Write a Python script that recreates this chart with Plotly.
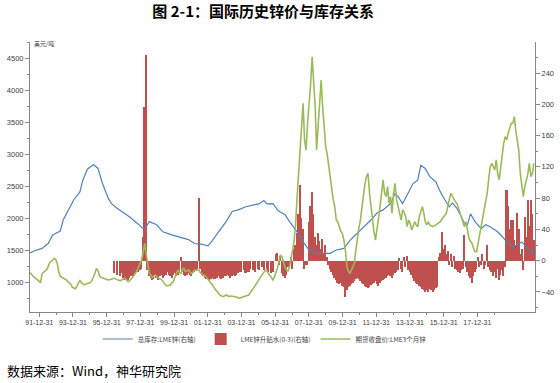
import pandas as pd
import plotly.graph_objects as go

# ---------------- data ----------------
tick_labels = ["91-12-31", "93-12-31", "95-12-31", "97-12-31", "99-12-31", "01-12-31",
               "03-12-31", "05-12-31", "07-12-31", "09-12-31", "11-12-31", "13-12-31",
               "15-12-31", "17-12-31"]

# LME 3-month zinc close (USD/t), monthly from 1991-05
green_start = "1991-05-01"
green_values = [
    1160, 1119, 1100, 1083, 1060, 1041, 1030, 1000,
    1145, 1160, 1180, 1200, 1249, 1311, 1330, 1350, 1379, 1360, 1300, 1170,
    1100, 1085, 1075, 1067, 1045, 1020, 1000, 975, 927, 915, 905, 940,
    1000, 1041, 1000, 975, 963, 980, 989, 1000, 1000, 1030, 1080, 1145,
    1223, 1187, 1110, 1083, 1075, 1070, 1062, 1050, 1041, 1045, 1052, 1060,
    1067, 1055, 1041, 1035, 1031, 1050, 1060, 1067, 1040, 1015, 1030, 1050,
    1083, 1120, 1150, 1190, 1249, 1300, 1353, 1480, 1613, 1450, 1250, 1150,
    1120, 1083, 1100, 1119, 1090, 1067, 1060, 1052, 1020, 989, 960, 948,
    960, 963, 1000, 1015, 1083, 1130, 1197, 1160, 1145, 1200, 1223, 1171,
    1190, 1197, 1170, 1145, 1160, 1197, 1190, 1197, 1197, 1150, 1130, 1119,
    1110, 1080, 1050, 1030, 990, 960, 920, 885, 850, 815, 800, 790,
    781, 795, 807, 795, 781, 790, 791, 785, 781, 770, 760, 755,
    770, 781, 785, 791, 800, 807, 840, 885, 910, 937, 975, 1015,
    1060, 1100, 1119, 1160, 1197, 1180, 1145, 1110, 1067, 1041, 1090, 1145,
    1230, 1327, 1431, 1405, 1300, 1240, 1197, 1180, 1250, 1353, 1500, 1650,
    1900, 2342, 2700, 3050, 3500, 3797, 3226, 3069, 3500, 3745, 4100, 4525,
    4162, 3745, 3069, 3434, 3850, 4162, 3745, 3434, 3121, 3000, 2800, 2602,
    2497, 2290, 2185, 1978, 1950, 1873, 1800, 1769, 1665, 1509, 1249, 1180,
    1145, 1197, 1250, 1301, 1509, 1717, 1850, 1978, 2185, 2342, 2550, 2650,
    2706, 2394, 2185, 1978, 1800, 1665, 1873, 2000, 2185, 2394, 2602, 2400,
    2342, 2497, 2237, 2342, 2082, 2394, 2550, 2290, 2185, 2082, 1978, 2134,
    2100, 2030, 1873, 1978, 1925, 1821, 1873, 1951, 1899, 1873, 2030, 2120,
    2185, 2082, 1951, 1899, 1951, 1899, 1880, 1873, 1885, 1899, 1920, 1940,
    1951, 1990, 2030, 2050, 2082, 2211, 2300, 2394, 2342, 2290, 2260, 2237,
    2159, 2100, 2030, 1950, 1873, 1951, 1795, 1691, 1650, 1613, 1535, 1483,
    1483, 1613, 1717, 1821, 1951, 2082, 2237, 2394, 2602, 2810, 2862, 2800,
    2758, 2914, 2706, 2602, 2810, 2966, 3174, 3278, 3226, 3330, 3434, 3486,
    3486, 3590, 3382, 3226, 3069, 2706, 2497, 2342, 2497, 2600, 2700, 2862,
    2654, 2706, 2862,
]

# LME zinc 0-3 spread (USD/t), monthly from 1996-01
red_start = "1996-01-01"
red_values = [
    -16, 0, -18, 0, -20, -16, -22, -25, -24, -25, -22, -20,
    -20, -18, -16, -15, -14, -12, -10, 30, 197, 263, -12, -20,
    -22, -25, -24, -20, -22, -25, -20, -18, -22, -20, -18, -15,
    -18, -20, -22, -18, -16, -20, -18, -16, 5, -14, -18, -20,
    -18, -16, -18, -20, -16, -14, -12, -10, 80, -10, -18, -20,
    -22, -24, -22, -25, -24, -22, -23, -24, -22, -20, -22, -24,
    -22, -20, -20, -18, -20, -22, -20, -18, -20, -18, -16, -15,
    -14, 0, -12, -16, 0, -14, -10, 0, -12, -14, 0, -10,
    -12, 0, -8, -12, 0, -10, -14, 0, -16, -15, 0, 8,
    10, -5, 6, -16, -20, -22, -18, -8, -5, 5, -10, 15,
    20, 35, 60, 97, 55, 40, -10, -5, -5, 50, 70, 88,
    60, 30, 20, 35, 25, 15, 28, 10, 20, 5, -5, -10,
    -15, -18, -22, -25, -28, -30, -28, -32, -33, -46, -38, -34,
    -32, -30, -28, -26, -24, -22, -24, -26, -28, -30, -32, -33,
    -35, -33, -31, -30, -28, -26, -30, -32, -28, -26, -25, -24,
    -22, -20, -18, -20, -22, -18, -16, -14, -12, 4, -10, -14,
    5, -8, 6, -12, -15, -18, -22, -26, -28, -30, -32, -34,
    -36, -38, -40, -38, -40, -36, -38, -40, -37, -35, -33, 5,
    10, 37, 15, 20, 8, 12, -5, 8, -8, 6, -10, -12,
    -14, -16, -12, -10, 33, -8, -15, -20, -22, -29, -20, -15,
    -10, 5, -8, -6, 8, -10, -5, 20, -8, -12, -15, -20,
    -15, -22, -10, -25, -18, -12, -20, -8, 90, 70, 40, 52,
    52, 26, 20, 61, 40, 9, 15, -12, 56, 30, 78, 45,
    78, 60, 26,
]

# LME zinc total stocks (right axis)
blue_dates = [
    "1991-05", "1991-08", "1992-01", "1992-05", "1992-08", "1993-01", "1993-03", "1993-07",
    "1993-10", "1994-02", "1994-04", "1994-07", "1994-11", "1995-02", "1995-05", "1995-09",
    "1995-11", "1996-02", "1996-06", "1996-11", "1997-04", "1997-08", "1997-10", "1997-12",
    "1998-05", "1998-09", "1999-03", "1999-07", "2000-02", "2000-06", "2000-11", "2001-03",
    "2001-06", "2001-10", "2002-03", "2002-07", "2002-11", "2003-04", "2003-09", "2004-01",
    "2004-04", "2004-06", "2004-10", "2005-01", "2005-03", "2005-06", "2005-09", "2006-02",
    "2006-06", "2006-10", "2007-03", "2007-07", "2007-12", "2008-04", "2008-09", "2009-01",
    "2009-06", "2009-10", "2010-03", "2010-07", "2010-11", "2011-04", "2011-07", "2011-09",
    "2011-12", "2012-03", "2012-07", "2012-10", "2012-12", "2013-03", "2013-06", "2013-10",
    "2014-01", "2014-04", "2014-07", "2014-09", "2014-12", "2015-05", "2015-07", "2015-09",
    "2015-12", "2016-04", "2016-07", "2016-10", "2017-03", "2017-06", "2017-09", "2018-01",
    "2018-04", "2018-07", "2018-11", "2019-02", "2019-03",
]
blue_values = [
    10, 12.8, 15.8, 22, 33, 38, 52, 67,
    78, 88, 103, 117, 123, 118, 99, 79,
    73, 68, 63, 56, 48, 41, 43.5, 50,
    46, 37, 33, 31, 27, 22, 21, 19,
    26, 37, 50, 63, 65, 69, 71, 73,
    77, 72.6, 73, 65, 62, 59, 50, 37,
    24, 13.7, 9.4, 9.4, 9.4, 13.7, 15.8, 26,
    35, 43.5, 52, 61, 65, 73, 86, 82,
    73, 84, 99, 103, 122, 118, 107.5, 101,
    88, 78, 69, 74, 67, 48, 46, 60,
    50, 41, 46, 43.5, 37, 31, 24, 18,
    20, 24, 16, 9.4, 11.5,
]

# ---------------- figure ----------------
green_dates = pd.date_range(green_start, periods=len(green_values), freq="MS")
red_dates = pd.date_range(red_start, periods=len(red_values), freq="MS")

BLUE, RED, GREEN = "#4F81BD", "#C0504D", "#9BBB59"
AXIS = "#868686"
TXT = "#404040"
NUM_FONT = "Liberation Sans"
CJK = "Noto Sans CJK SC"

# category-style label spacing of the original axis
tick0 = pd.Timestamp("1991-11-04")
step = pd.Timedelta(days=680)
tickvals = [tick0 + step * k for k in range(len(tick_labels))]
minor_vals = [tick0 + step * k + step / 2 for k in range(-1, len(tick_labels))]

fig = go.Figure()
fig.add_trace(go.Bar(
    x=red_dates, y=red_values, name="LME锌升贴水(0-3)(右轴)",
    marker=dict(color=RED, line=dict(width=0)),
    width=31 * 24 * 3600 * 1000, yaxis="y", legendrank=2,
))
fig.add_trace(go.Scatter(
    x=pd.to_datetime(blue_dates), y=blue_values, name="总库存:LME锌(右轴)",
    mode="lines", line=dict(color=BLUE, width=1.2), yaxis="y", legendrank=1,
))
fig.add_trace(go.Scatter(
    x=green_dates, y=green_values, name="期货收盘价:LME3个月锌",
    mode="lines", line=dict(color=GREEN, width=1.6), yaxis="y2", legendrank=3,
))

fig.update_layout(
    width=560, height=383,
    margin=dict(l=30, r=25, t=42, b=71, autoexpand=False),
    paper_bgcolor="white", plot_bgcolor="white",
    bargap=0,
    showlegend=True,
    legend=dict(orientation="h", x=0.465, xanchor="center", y=-0.1, yanchor="middle",
                font=dict(family=CJK, size=6.5, color=TXT), itemwidth=30,
                bgcolor="rgba(0,0,0,0)", traceorder="normal"),
    title=dict(text="<b>图 2-1：国际历史锌价与库存关系</b>", x=0.47, xanchor="center",
               y=1 - 12 / 383, yanchor="middle",
               font=dict(family=CJK, size=15, color="black")),
    xaxis=dict(
        type="date", range=[pd.Timestamp("1991-05-01"), pd.Timestamp("2019-03-25")],
        tickmode="array", tickvals=tickvals, ticktext=tick_labels, tickangle=0,
        automargin=False,
        ticks="outside", ticklen=4, tickcolor=AXIS,
        showline=True, linecolor=AXIS, linewidth=1, showgrid=False, zeroline=False,
        tickfont=dict(family=NUM_FONT, size=7, color=TXT),
        minor=dict(tickmode="array", tickvals=minor_vals, ticks="outside", ticklen=2,
                   tickcolor=AXIS, showgrid=False),
    ),
    yaxis=dict(
        side="right", range=[-65.6, 279.7], tick0=0, dtick=40, automargin=False,
        ticks="outside", ticklen=4, tickcolor=AXIS,
        showline=True, linecolor=AXIS, linewidth=1, showgrid=False, zeroline=False,
        tickfont=dict(family=NUM_FONT, size=7.5, color=TXT),
        minor=dict(tick0=0, dtick=20, ticks="outside", ticklen=2, tickcolor=AXIS, showgrid=False),
    ),
    yaxis2=dict(
        side="left", overlaying="y", range=[542, 4754], tick0=0, dtick=500, automargin=False,
        ticks="outside", ticklen=4, tickcolor=AXIS,
        showline=True, linecolor=AXIS, linewidth=1, showgrid=False, zeroline=False,
        tickfont=dict(family=NUM_FONT, size=7.5, color=TXT),
        minor=dict(tick0=0, dtick=250, ticks="outside", ticklen=2, tickcolor=AXIS, showgrid=False),
    ),
    annotations=[
        dict(text="美元/吨", xref="paper", yref="paper", x=0.004, y=0.993,
             xanchor="left", yanchor="middle", showarrow=False,
             font=dict(family=CJK, size=6, color=TXT)),
        dict(text="数据来源：Wind，神华研究院", xref="paper", yref="paper",
             x=-25 / 505, y=-58 / 270, xanchor="left", yanchor="middle", showarrow=False,
             font=dict(family=CJK, size=13, color="black")),
    ],
)

fig.write_html("out.html", config={"displayModeBar": False},
               post_script="document.body.style.margin='0px';")
